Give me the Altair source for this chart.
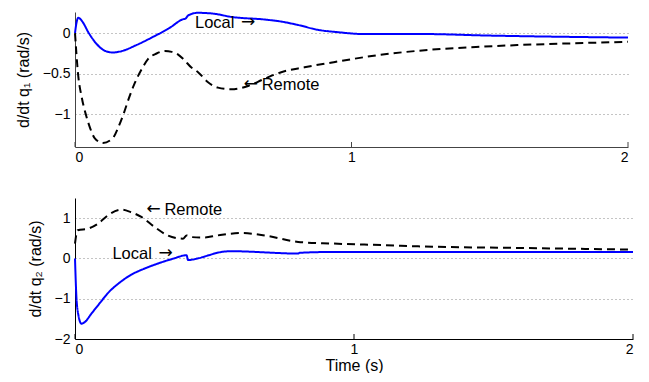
import altair as alt
import pandas as pd

# ---------------- data ----------------
# Panel 1: d/dt q1
t_local1 = [0, 0.005, 0.012, 0.025, 0.05, 0.08, 0.11, 0.137, 0.17, 0.22, 0.28, 0.34, 0.39, 0.40,
            0.41, 0.445, 0.5, 0.565, 0.687, 0.75, 0.807, 0.88, 0.95, 1.05, 1.24, 1.5, 2.0]
v_local1 = [0, 0.12, 0.19, 0.15, 0.0, -0.14, -0.22, -0.238, -0.22, -0.15, -0.05, 0.06, 0.17, 0.18,
            0.22, 0.25, 0.24, 0.2, 0.167, 0.14, 0.1, 0.04, 0.012, -0.012, -0.01, -0.03, -0.055]

t_remote1 = [0, 0.011, 0.025, 0.04, 0.055, 0.071, 0.101, 0.137, 0.155, 0.174, 0.195, 0.216, 0.24,
             0.264, 0.295, 0.325, 0.35, 0.372, 0.395, 0.42, 0.445, 0.48, 0.517, 0.565, 0.626, 0.68,
             0.746, 0.83, 0.93, 1.12, 1.265, 1.45, 1.6, 1.8, 2.0]
v_remote1 = [0, -0.5, -0.8, -1.01, -1.17, -1.29, -1.35, -1.29, -1.17, -1.01, -0.8, -0.615, -0.45,
             -0.32, -0.25, -0.22, -0.23, -0.26, -0.33, -0.42, -0.48, -0.6, -0.67, -0.69, -0.65, -0.57,
             -0.48, -0.42, -0.36, -0.26, -0.21, -0.17, -0.147, -0.125, -0.107]

# Panel 2: d/dt q2
t_local2 = [0, 0.005, 0.012, 0.023, 0.035, 0.06, 0.09, 0.118, 0.16, 0.2, 0.25, 0.3, 0.35, 0.4,
            0.405, 0.44, 0.48, 0.51, 0.56, 0.62, 0.68, 0.8, 0.805, 0.92, 1.2, 1.6, 2.0]
v_local2 = [0, -0.95, -1.4, -1.62, -1.58, -1.36, -1.1, -0.86, -0.6, -0.41, -0.25, -0.12, -0.01, 0.08,
            -0.04, 0.0, 0.08, 0.14, 0.18, 0.17, 0.15, 0.12, 0.14, 0.16, 0.16, 0.16, 0.16]

t_remote2 = [0, 0.005, 0.01, 0.047, 0.082, 0.118, 0.166, 0.2, 0.238, 0.285, 0.333, 0.387, 0.4,
             0.417, 0.465, 0.51, 0.596, 0.68, 0.8, 0.92, 1.11, 1.23, 1.6, 2.0]
v_remote2 = [0.37, 0.6, 0.7, 0.74, 0.86, 1.07, 1.21, 1.15, 1.03, 0.78, 0.57, 0.49, 0.57,
             0.53, 0.52, 0.57, 0.63, 0.57, 0.41, 0.37, 0.33, 0.3, 0.26, 0.22]

series_names = ["Local", "Remote"]
series_colors = ["#0000ff", "#000000"]

# annotations: word label, its arrow, and the anchor (t, y) of the annotation
ann1_t = [0.434, 0.61]
ann1_y = [0.124, -0.64]
ann1_word = ["Local", "Remote"]
ann1_arrow = ["\u2192", "\u2190"]
ann1_arrow_first = [False, True]

ann2_t = [0.134, 0.256]
ann2_y = [0.118, 1.21]
ann2_word = ["Local", "Remote"]
ann2_arrow = ["\u2192", "\u2190"]
ann2_arrow_first = [False, True]

x_ticks = [0, 1, 2]
y_ticks1 = [-1, -0.5, 0]
y_ticks2 = [-2, -1, 0, 1]

FONT = "Liberation Sans"


def make_df(tl, vl, tr, vr):
    return pd.concat([
        pd.DataFrame({"t": tl, "v": vl, "series": "Local"}),
        pd.DataFrame({"t": tr, "v": vr, "series": "Remote"}),
    ], ignore_index=True)


def annotation_layers(ts, ys, words, arrows, arrow_first):
    layers = []
    for t, yv, w, a, af in zip(ts, ys, words, arrows, arrow_first):
        d = pd.DataFrame({"t": [t], "v": [yv], "word": [w], "arrow": [a]})
        word_dx = 18 if af else 0
        arrow_dx = 0 if af else 46
        layers.append(alt.Chart(d).mark_text(align="left", baseline="middle", font=FONT, fontSize=16.5,
                                             color="black", dx=word_dx).encode(
            x="t:Q", y="v:Q", text="word:N"))
        layers.append(alt.Chart(d).mark_text(align="left", baseline="middle", font="DejaVu Sans",
                                             fontSize=17, color="black", dx=arrow_dx, dy=-1).encode(
            x="t:Q", y="v:Q", text="arrow:N"))
    return layers


def panel(df, ann, ydomain, yvals, ytitle, width, height, xtitle, domain_color):
    xaxis_kwargs = dict(values=x_ticks, format="~g", grid=False, ticks=False, labelPadding=3,
                        domainColor=domain_color)
    if xtitle:
        xaxis_kwargs["title"] = xtitle
        xaxis_kwargs["titlePadding"] = 1
    else:
        xaxis_kwargs["title"] = None
    x = alt.X("t:Q", scale=alt.Scale(domain=[0, 2], nice=False, zero=False),
              axis=alt.Axis(**xaxis_kwargs))
    y = alt.Y("v:Q", scale=alt.Scale(domain=ydomain, nice=False, zero=False),
              axis=alt.Axis(values=yvals, format="~g", grid=True, ticks=False, labelPadding=5,
                            title=ytitle, titlePadding=11, domainColor=domain_color))

    lines = alt.Chart(df).mark_line(strokeWidth=2, interpolate="monotone").encode(
        x=x, y=y,
        color=alt.Color("series:N", scale=alt.Scale(domain=series_names, range=series_colors), legend=None),
        strokeDash=alt.StrokeDash("series:N", scale=alt.Scale(domain=series_names, range=[[1, 0], [8, 5]]),
                                  legend=None),
    )

    tick_df = pd.DataFrame({"t": x_ticks})
    ticks = alt.Chart(tick_df).mark_rule(color=domain_color, strokeWidth=1).encode(
        x="t:Q", y=alt.value(height), y2=alt.value(height - 5))

    return alt.layer(lines, *annotation_layers(*ann), ticks).properties(width=width, height=height)


top = panel(make_df(t_local1, v_local1, t_remote1, v_remote1),
            (ann1_t, ann1_y, ann1_word, ann1_arrow, ann1_arrow_first),
            [-1.4, 0.26], y_ticks1, "d/dt q\u2081  (rad/s)", 553, 135, None, "#444444")
bottom = panel(make_df(t_local2, v_local2, t_remote2, v_remote2),
               (ann2_t, ann2_y, ann2_word, ann2_arrow, ann2_arrow_first),
               [-2, 1.5], y_ticks2, "d/dt q\u2082  (rad/s)", 558, 141, "Time (s)", "#000000")

chart = alt.vconcat(top, bottom, spacing=34).properties(
    padding={"left": 7, "top": 0, "right": 0, "bottom": 0}
).configure_view(stroke=None).configure_axis(
    labelFont=FONT, labelFontSize=14, labelColor="black",
    titleFont=FONT, titleFontSize=16, titleFontWeight="normal", titleColor="black",
    gridColor="#888888", gridDash=[1, 3], gridWidth=1, domainWidth=1,
)

chart.save("out.html", embed_options={"renderer": "svg", "actions": False})
